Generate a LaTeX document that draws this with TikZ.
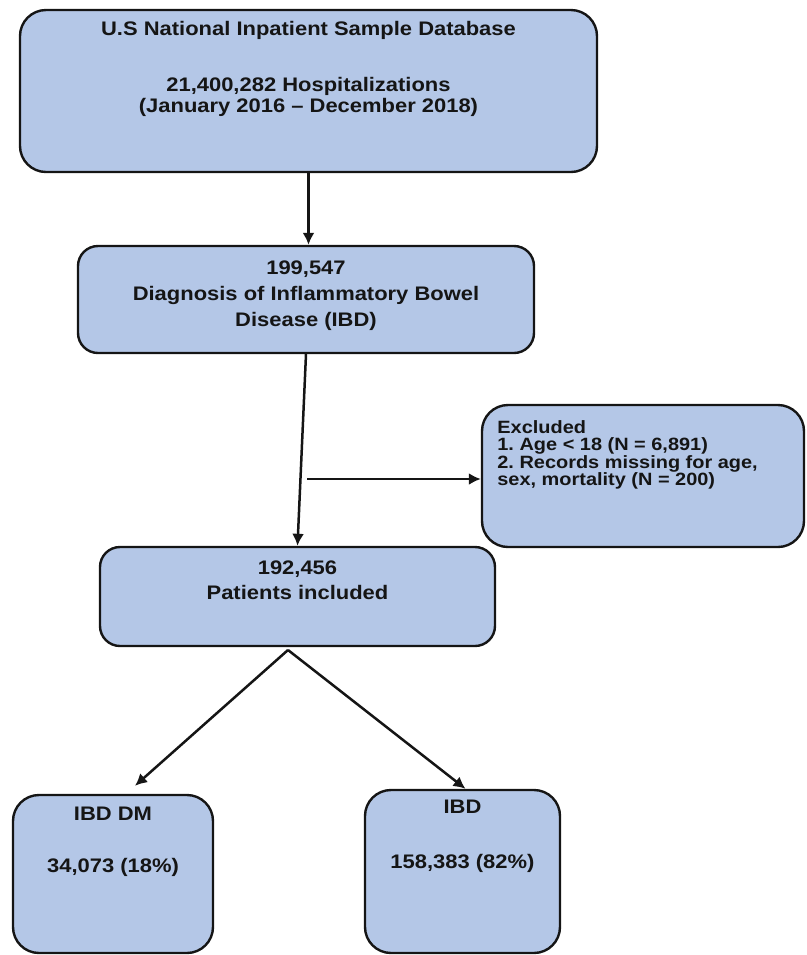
\documentclass[tikz,border=0pt]{standalone}
\usepackage{fontspec}
\setmainfont{Liberation Sans}[FakeStretch=1.12]
\usetikzlibrary{arrows.meta}
\definecolor{boxblue}{HTML}{B4C7E7}
\definecolor{ink}{HTML}{151515}
\frenchspacing
\begin{document}
\begin{tikzpicture}[x=0.5pt, y=-0.5pt,
  stage/.style={draw=ink, line width=1.2pt, fill=boxblue, rounded corners=13pt, inner sep=0pt},
  lbl/.style={text=ink, inner sep=0pt, align=center, anchor=north},
  flow/.style={-{Latex[length=6pt,width=6pt]}, line width=1.25pt, draw=ink}]
\useasboundingbox (0,0) rectangle (807,955);
% Boxes
\node[stage, minimum width=288.5pt, minimum height=81pt] (nis) at (308.5,91) {};
\node[stage, minimum width=228pt, minimum height=53.5pt, rounded corners=10pt] (ibd) at (306,299.5) {};
\node[stage, minimum width=161pt, minimum height=71pt] (excl) at (643,476) {};
\node[stage, minimum width=197.5pt, minimum height=49.5pt, rounded corners=10pt] (incl) at (297.5,596.5) {};
\node[stage, minimum width=100pt, minimum height=79pt] (dm) at (113,874) {};
\node[stage, minimum width=97.5pt, minimum height=81.5pt] (nodm) at (462.5,871.5) {};
% Texts
\node[lbl, font=\bfseries\fontsize{9.8}{9}\selectfont] (nis-t) at (308.5,21)
  {U.S National Inpatient Sample Database\\[18pt]21,400,282 Hospitalizations\\(January 2016 -- December 2018)};
\node[lbl, font=\bfseries\fontsize{9.8}{13}\selectfont] (ibd-t) at (306,260)
  {199,547\\Diagnosis of Inflammatory Bowel\\Disease (IBD)};
\node[lbl, font=\bfseries\fontsize{8.9}{8.75}\selectfont, align=left, anchor=north west] (excl-t) at (497,420)
  {Excluded\\1. Age < 18 (N = 6,891)\\2. Records missing for age,\\sex, mortality (N = 200)};
\node[lbl, font=\bfseries\fontsize{9.8}{12.5}\selectfont] (incl-t) at (297.5,560)
  {192,456\\Patients included};
\node[lbl, font=\bfseries\fontsize{9.8}{12}\selectfont] (dm-t) at (113,807)
  {IBD DM\\[14pt]34,073 (18\%)};
\node[lbl, font=\bfseries\fontsize{9.8}{12}\selectfont] (nodm-t) at (462.5,800)
  {IBD\\[15.5pt]158,383 (82\%)};
% Arrows
\draw[flow] (nis.south) -- (nis.south |- ibd.north);
\draw[flow] (ibd.south) -- (incl.north);
\coordinate (split) at (307,479);
\draw[flow] (split) -- (split -| excl.west);
\coordinate (fork) at (288,650);
\draw[flow] (fork) -- ([xshift=11pt,yshift=4pt]dm.north);
\draw[flow] (fork) -- ([xshift=1.5pt]nodm.north);
\end{tikzpicture}
\end{document}
